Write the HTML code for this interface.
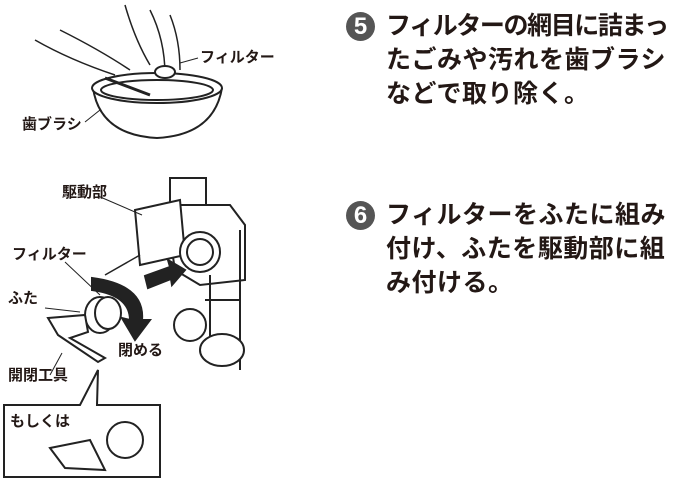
<!DOCTYPE html>
<html><head><meta charset="utf-8"><style>
html,body{margin:0;padding:0;background:#fff;width:674px;height:479px;overflow:hidden;position:relative}
.t{position:absolute;font-family:"Liberation Sans","Noto Sans CJK JP",sans-serif;color:#231815;font-weight:bold;white-space:nowrap}
.big{font-size:25px;line-height:34px;letter-spacing:0.5px}
.sq{letter-spacing:-1.4px}
.num{position:absolute;width:29px;height:29px;border-radius:50%;background:#555;color:#fff;font-family:"Liberation Sans",sans-serif;font-weight:bold;font-size:24px;line-height:29px;text-align:center}
.lb{font-size:15px;line-height:16px}
</style></head><body>
<div class="num" style="left:346px;top:12px">5</div>
<div class="t big" style="left:386px;top:9px"><span class="sq">フィルターの網目に詰まっ</span><br>たごみや汚れを歯ブラシ<br>などで取り除く。</div>
<div class="num" style="left:346px;top:201px">6</div>
<div class="t big" style="left:386px;top:198px">フィルターをふたに組み<br>付け、ふたを駆動部に組<br>み付ける。</div>

<svg style="position:absolute;left:0;top:0" width="340" height="479" viewBox="0 0 340 479" fill="none" stroke="#222" stroke-width="2">
<path d="M93 88 Q100 135 157 138 Q214 135 222 88" fill="#fff"/>
<ellipse cx="157" cy="88" rx="65" ry="15" fill="#fff"/>
<ellipse cx="157" cy="90" rx="56" ry="10"/>
<path d="M35 40 Q70 60 115 75 M60 30 Q100 50 130 70" stroke-width="1.5"/>
<path d="M105 78 L150 95" stroke-width="3"/>
<path d="M125 5 Q135 40 150 65 M150 10 Q165 40 165 75 M170 15 Q180 40 180 70" stroke-width="1.5"/>
<ellipse cx="165" cy="72" rx="10" ry="6" fill="#fff"/>
<line x1="180" y1="63" x2="198" y2="58" stroke-width="1"/>
<line x1="85" y1="122" x2="100" y2="110" stroke-width="1"/>
<rect x="170" y="178" width="36" height="30" fill="#fff"/>
<path d="M165 205 L230 205 L245 225 L245 280 L200 285 L175 270 Z" fill="#fff"/>
<path d="M135 210 L180 200 L185 255 L140 265 Z" fill="#fff"/>
<circle cx="200" cy="252" r="20" fill="#fff"/>
<circle cx="200" cy="252" r="13"/>
<path d="M210 275 L210 360 M240 230 L240 370 M205 300 L240 300" />
<circle cx="190" cy="325" r="16" fill="#fff"/>
<ellipse cx="222" cy="350" rx="22" ry="16" fill="#fff"/>
<line x1="105" y1="275" x2="140" y2="255" stroke-width="1.5"/>
<line x1="98" y1="196" x2="142" y2="215" stroke-width="1"/>
<line x1="65" y1="262" x2="100" y2="295" stroke-width="1"/>
<line x1="45" y1="308" x2="80" y2="312" stroke-width="1"/>
<line x1="50" y1="375" x2="62" y2="353" stroke-width="1"/>
<path d="M145 276 L170 267 L168 260 L185 270 L172 285 L171 279 L148 288 Z" fill="#222"/>
<path d="M92 278 Q145 285 142 320 L150 320 L135 340 L122 318 L130 320 Q130 295 92 290 Z" fill="#222"/>
<ellipse cx="100" cy="315" rx="15" ry="18" fill="#fff"/>
<ellipse cx="108" cy="313" rx="13" ry="16" fill="#fff"/>
<path d="M48 318 L85 315 L88 332 L70 338 L105 358 L98 362 L58 335 Z" fill="#fff"/>
<path d="M4 405 L80 405 L98 370 L97 405 L160 405 L160 477 L4 477 Z" fill="#fff"/>
<path d="M50 448 L90 440 L105 470 L65 468 Z" fill="#fff"/>
<ellipse cx="125" cy="440" rx="18" ry="18" fill="#fff"/>
</svg>

<div class="t lb" style="left:200px;top:50px">フィルター</div>
<div class="t lb" style="left:22px;top:117px">歯ブラシ</div>
<div class="t lb" style="left:62px;top:185px">駆動部</div>
<div class="t lb" style="left:12px;top:247px">フィルター</div>
<div class="t lb" style="left:8px;top:291px">ふた</div>
<div class="t lb" style="left:118px;top:343px">閉める</div>
<div class="t lb" style="left:8px;top:368px">開閉工具</div>
<div class="t lb" style="left:10px;top:414px">もしくは</div>
</body></html>
